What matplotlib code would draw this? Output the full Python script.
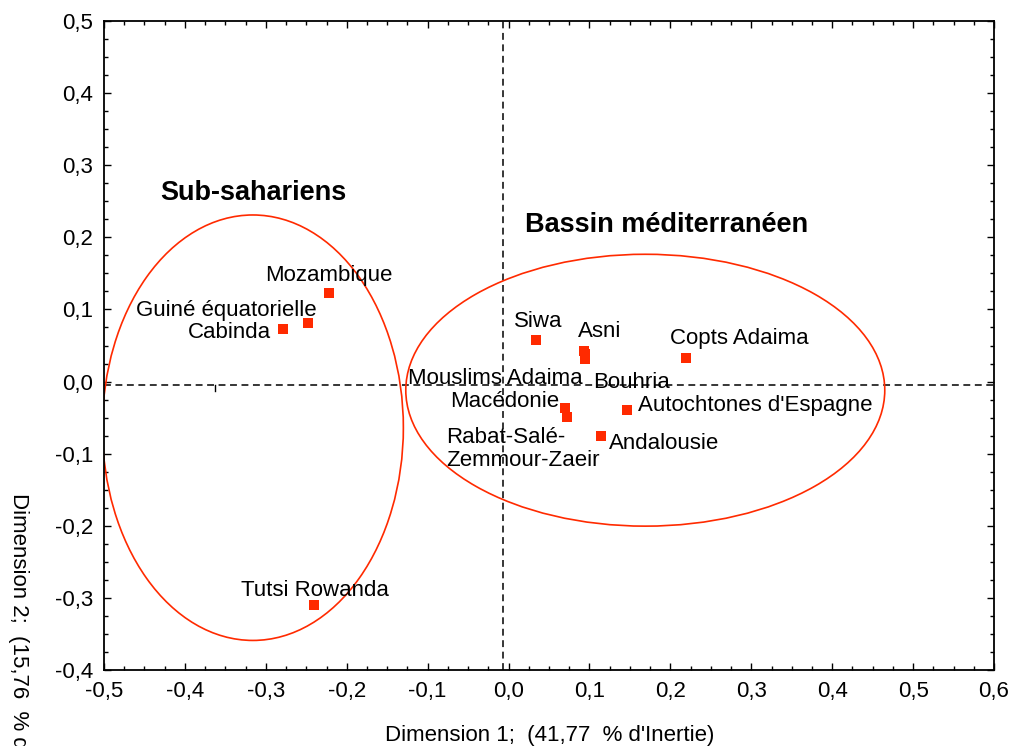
import matplotlib
matplotlib.use("Agg")
import matplotlib.pyplot as plt
from matplotlib.patches import Ellipse
from matplotlib.ticker import MultipleLocator, FuncFormatter

plt.rcParams['font.family'] = ['Liberation Sans', 'DejaVu Sans']

# ---- data ----
populations = ["Mozambique", "Guiné équatorielle", "Cabinda", "Tutsi Rowanda",
               "Siwa", "Asni", "Mouslims Adaima", "Bouhria", "Copts Adaima",
               "Macédonie", "Rabat-Salé-\nZemmour-Zaeir", "Autochtones d'Espagne",
               "Andalousie"]
dim1 = [-0.222, -0.248, -0.279, -0.240,
        0.034, 0.093, 0.094, 0.0945, 0.219,
        0.0695, 0.0717, 0.147, 0.114]
dim2 = [0.123, 0.081, 0.073, -0.310,
        0.057, 0.042, 0.038, 0.031, 0.033,
        -0.037, -0.049, -0.039, -0.075]

# reference lines (centroid of the configuration)
ref_x = -0.007
ref_y = -0.0045

groups = ["Sub-sahariens", "Bassin méditerranéen"]
group_center_x = [-0.316, 0.169]
group_center_y = [-0.064, -0.012]
group_width = [0.372, 0.592]
group_height = [0.590, 0.377]

x_label = "Dimension 1;  (41,77  % d'Inertie)"
y_label = "Dimension 2;  (15,76  % d"

# ---- label placement (pixel offsets, alignment) ----
label_style = {
    "Mozambique": ((0, 17), 'center', 'center'),
    "Guiné équatorielle": ((-82, 13), 'center', 'center'),
    "Cabinda": ((-53, -4), 'center', 'center'),
    "Tutsi Rowanda": ((1, 15), 'center', 'center'),
    "Siwa": ((2, 19), 'center', 'center'),
    "Asni": ((16, 20), 'center', 'center'),
    "Mouslims Adaima": ((-89, -24), 'center', 'center'),
    "Bouhria": ((46, -23), 'center', 'center'),
    "Copts Adaima": ((54, 19), 'center', 'center'),
    "Macédonie": ((-60, 7), 'center', 'center'),
    "Rabat-Salé-\nZemmour-Zaeir": ((-120, -32), 'left', 'center'),
    "Autochtones d'Espagne": ((11, 4), 'left', 'center'),
    "Andalousie": ((8, -8), 'left', 'center'),
}

RED = '#FF2A00'

fig = plt.figure(figsize=(10.11, 7.46), dpi=100)
ax = fig.add_axes([104/1011, 1-670/746, 890/1011, 649/746])

ax.set_xlim(-0.5, 0.6)
ax.set_ylim(-0.4, 0.5)

ax.axhline(ref_y, color='black', lw=1.1, ls=(0, (4.5, 3)), zorder=1)
ax.axvline(ref_x, color='black', lw=1.1, ls=(0, (4.5, 3)), zorder=1)
# small stub mark on the horizontal reference line
ax.plot([-0.3626, -0.3626], [ref_y, ref_y - 0.008], color='black', lw=1.0, zorder=1)

for cx, cy, w, h in zip(group_center_x, group_center_y, group_width, group_height):
    ax.add_patch(Ellipse((cx, cy), w, h, fill=False, edgecolor=RED, lw=1.2, zorder=2))

ax.plot(dim1, dim2, ls='none', marker='s', markersize=7.5, color=RED,
        markeredgewidth=0, zorder=3)

for name, x, y in zip(populations, dim1, dim2):
    (dx, dy), ha, va = label_style[name]
    ax.annotate(name, (x, y), xytext=(dx, dy), textcoords='offset pixels',
                ha=ha, va=va, fontsize=16, color='black', zorder=4,
                linespacing=1.15)

ax.text(160/1011, 1-193/746, groups[0], transform=fig.transFigure,
        fontsize=19.5, fontweight='bold', ha='left', va='center')
ax.text(525/1011, 1-225/746, groups[1], transform=fig.transFigure,
        fontsize=19.5, fontweight='bold', ha='left', va='center')

fmt = FuncFormatter(lambda v, p: f"{v:.1f}".replace('.', ',').replace('-0,0', '0,0'))
ax.xaxis.set_major_locator(MultipleLocator(0.1))
ax.yaxis.set_major_locator(MultipleLocator(0.1))
ax.xaxis.set_minor_locator(MultipleLocator(0.025))
ax.yaxis.set_minor_locator(MultipleLocator(0.025))
ax.xaxis.set_major_formatter(fmt)
ax.yaxis.set_major_formatter(fmt)
ax.tick_params(which='both', direction='in', top=True, right=True, labelsize=16,
               width=1.0, color='black')
ax.tick_params(which='major', length=5, pad=8)
ax.tick_params(which='minor', length=3)
for s in ax.spines.values():
    s.set_linewidth(1.3)

fig.text(550/1011, 1-735/746, x_label, fontsize=16, ha='center', va='center')
fig.text(18/1011, 1-493/746, y_label, fontsize=16, ha='center', va='top',
         rotation=-90)

fig.savefig('out.png', dpi=100)
